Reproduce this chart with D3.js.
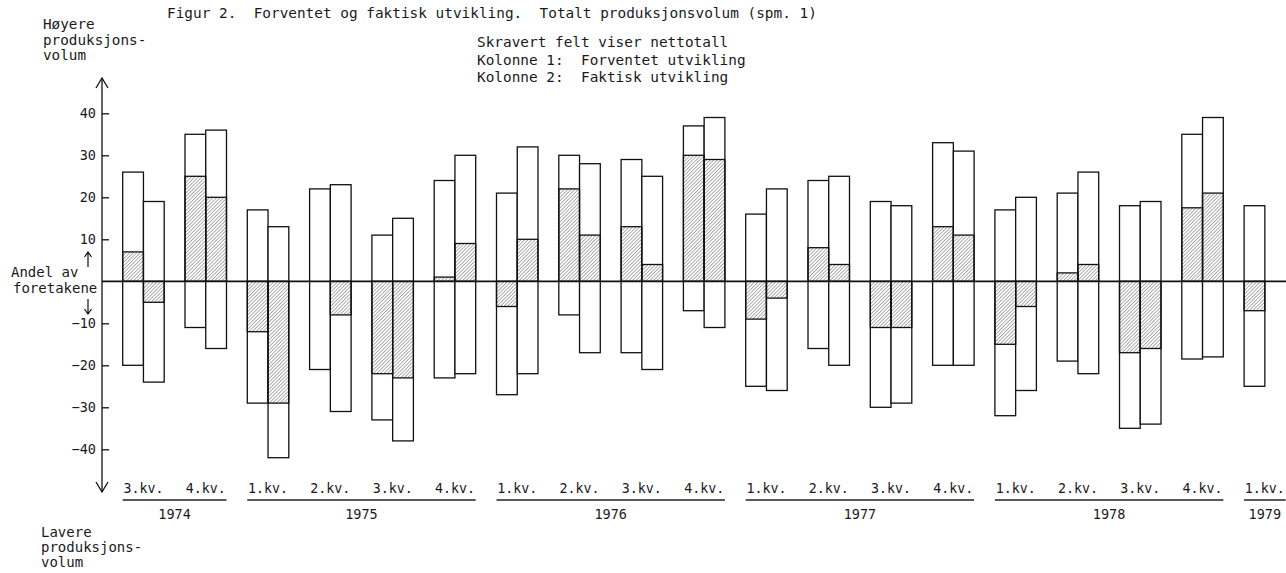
<!DOCTYPE html>
<html>

<head>
    <title>Figur 2</title>
    <script src="https://d3js.org/d3.v7.min.js"></script>

    <style>
        body {
            margin: 0;
            background: #fff;
        }

        svg text {
            font-family: "DejaVu Sans Mono", "Liberation Mono", monospace;
            fill: #1a1a1a;
            white-space: pre;
        }
    </style>
</head>

<body>
    <svg id="chart" width="1286" height="573"></svg>

    <script>
        // quarters, in order
        const years = ["1974", "1974", "1975", "1975", "1975", "1975", "1976", "1976", "1976", "1976",
            "1977", "1977", "1977", "1977", "1978", "1978", "1978", "1978", "1979"];
        const quarters = ["3.kv.", "4.kv.", "1.kv.", "2.kv.", "3.kv.", "4.kv.", "1.kv.", "2.kv.", "3.kv.", "4.kv.",
            "1.kv.", "2.kv.", "3.kv.", "4.kv.", "1.kv.", "2.kv.", "3.kv.", "4.kv.", "1.kv."];

        // Kolonne 1: forventet utvikling (andel hoyere, andel lavere, netto)
        const expHigher = [26, 35, 17, 22, 11, 24, 21, 30, 29, 37, 16, 24, 19, 33, 17, 21, 18, 35, 18];
        const expLower = [-20, -11, -29, -21, -33, -23, -27, -8, -17, -7, -25, -16, -30, -20, -32, -19, -35, -18.5, -25];
        const expNet = [7, 25, -12, 0, -22, 1, -6, 22, 13, 30, -9, 8, -11, 13, -15, 2, -17, 17.5, -7];

        // Kolonne 2: faktisk utvikling (ingen tall for 1979 1.kv.)
        const actHigher = [19, 36, 13, 23, 15, 30, 32, 28, 25, 39, 22, 25, 18, 31, 20, 26, 19, 39, null];
        const actLower = [-24, -16, -42, -31, -38, -22, -22, -17, -21, -11, -26, -20, -29, -20, -26, -22, -34, -18, null];
        const actNet = [-5, 20, -29, -8, -23, 9, 10, 11, 4, 29, -4, 4, -11, 11, -6, 4, -16, 21, null];

        const yTicks = [-40, -30, -20, -10, 10, 20, 30, 40];

        const svg = d3.select("#chart");
        const width = +svg.attr("width");

        const periods = years.map((y, i) => y + " " + quarters[i]);

        const axisX = 102;

        const x = d3.scaleBand()
            .domain(periods)
            .range([122.7, 1285.6])
            .paddingInner(0.334)
            .paddingOuter(0);

        const col = d3.scaleBand()
            .domain(["forventet", "faktisk"])
            .range([0, x.bandwidth()]);

        const y = d3.scaleLinear()
            .domain([-40, 40])
            .range([449.3, 113.3]);

        // hatch pattern for net values
        const defs = svg.append("defs");
        defs.append("pattern")
            .attr("id", "hatch")
            .attr("patternUnits", "userSpaceOnUse")
            .attr("width", 2.5)
            .attr("height", 2.5)
            .attr("patternTransform", "rotate(45)")
            .append("line")
            .attr("x1", 0).attr("y1", 0)
            .attr("x2", 0).attr("y2", 2.5)
            .attr("stroke", "#2a2a2a")
            .attr("stroke-width", 0.75);

        const rows = [];
        periods.forEach((p, i) => {
            rows.push({ period: p, col: "forventet", higher: expHigher[i], lower: expLower[i], net: expNet[i] });
            if (actHigher[i] !== null) {
                rows.push({ period: p, col: "faktisk", higher: actHigher[i], lower: actLower[i], net: actNet[i] });
            }
        });

        const bars = svg.append("g");

        bars.selectAll(".outer")
            .data(rows)
            .join("rect")
            .attr("class", "outer")
            .attr("x", d => x(d.period) + col(d.col))
            .attr("y", d => y(d.higher))
            .attr("width", col.bandwidth())
            .attr("height", d => y(d.lower) - y(d.higher))
            .attr("fill", "#fff")
            .attr("stroke", "#111")
            .attr("stroke-width", 1.3);

        bars.selectAll(".net")
            .data(rows.filter(d => d.net !== 0))
            .join("rect")
            .attr("class", "net")
            .attr("x", d => x(d.period) + col(d.col))
            .attr("y", d => y(Math.max(0, d.net)))
            .attr("width", col.bandwidth())
            .attr("height", d => Math.abs(y(d.net) - y(0)))
            .attr("fill", "url(#hatch)")
            .attr("stroke", "#111")
            .attr("stroke-width", 1.3);

        // zero line
        svg.append("line")
            .attr("x1", axisX).attr("x2", width)
            .attr("y1", y(0)).attr("y2", y(0))
            .attr("stroke", "#111")
            .attr("stroke-width", 1.8);

        // y axis with ticks pointing in
        const yAxis = svg.append("g")
            .attr("transform", `translate(${axisX},0)`)
            .call(d3.axisLeft(y).tickValues(yTicks).tickSize(-7).tickPadding(6).tickFormat(d3.format("d")));
        yAxis.select(".domain").remove();
        yAxis.selectAll(".tick line").attr("stroke", "#111").attr("stroke-width", 1.3);
        yAxis.selectAll(".tick text")
            .style("font-size", "13.5px")
            .attr("fill", "#1a1a1a");

        // axis line with open arrow heads
        const arrowTop = 78, arrowBottom = 492;
        svg.append("line")
            .attr("x1", axisX).attr("x2", axisX)
            .attr("y1", arrowTop).attr("y2", arrowBottom)
            .attr("stroke", "#111").attr("stroke-width", 1.3);
        svg.append("path")
            .attr("d", `M${axisX - 6},${arrowTop + 10}L${axisX},${arrowTop}L${axisX + 6},${arrowTop + 10}`
                + `M${axisX - 6},${arrowBottom - 10}L${axisX},${arrowBottom}L${axisX + 6},${arrowBottom - 10}`)
            .attr("fill", "none").attr("stroke", "#111").attr("stroke-width", 1.3);

        // small arrows beside "Andel av foretakene"
        const ax = 88;
        svg.append("path")
            .attr("d", `M${ax},267L${ax},252M${ax - 3.5},257L${ax},252L${ax + 3.5},257`
                + `M${ax},299L${ax},314M${ax - 3.5},309L${ax},314L${ax + 3.5},309`)
            .attr("fill", "none").attr("stroke", "#111").attr("stroke-width", 1.2);

        svg.append("text").attr("x", 11).attr("y", 277).style("font-size", "14px").text("Andel av");
        svg.append("text").attr("x", 13).attr("y", 293).style("font-size", "14px").text("foretakene");

        // quarter labels and year underlines
        svg.selectAll(".qlabel")
            .data(periods)
            .join("text")
            .attr("class", "qlabel")
            .attr("x", d => x(d) + x.bandwidth() / 2)
            .attr("y", 493)
            .attr("text-anchor", "middle")
            .style("font-size", "13.3px")
            .text((d, i) => quarters[i]);

        const yearGroups = d3.groups(periods, d => d.slice(0, 4));
        yearGroups.forEach(([yr, ps]) => {
            const x0 = x(ps[0]);
            const x1 = x(ps[ps.length - 1]) + x.bandwidth();
            svg.append("line")
                .attr("x1", x0).attr("x2", x1)
                .attr("y1", 500).attr("y2", 500)
                .attr("stroke", "#222").attr("stroke-width", 1.6);
            svg.append("text")
                .attr("x", (x0 + x1) / 2)
                .attr("y", 519)
                .attr("text-anchor", "middle")
                .style("font-size", "13.5px")
                .text(yr);
        });

        // side labels
        const topLabel = ["Høyere", "produksjons-", "volum"];
        svg.selectAll(".toplabel")
            .data(topLabel)
            .join("text")
            .attr("class", "toplabel")
            .attr("x", 43)
            .attr("y", (d, i) => 29 + i * 15.5)
            .style("font-size", "14.3px")
            .text(d => d);

        const bottomLabel = ["Lavere", "produksjons-", "volum"];
        svg.selectAll(".bottomlabel")
            .data(bottomLabel)
            .join("text")
            .attr("class", "bottomlabel")
            .attr("x", 41)
            .attr("y", (d, i) => 537 + i * 15)
            .style("font-size", "14px")
            .text(d => d);

        // title and legend
        svg.append("text")
            .attr("x", 167)
            .attr("y", 18)
            .style("font-size", "14.4px")
            .text("Figur 2.  Forventet og faktisk utvikling.  Totalt produksjonsvolum (spm. 1)");

        const legend = ["Skravert felt viser nettotall", "Kolonne 1:  Forventet utvikling", "Kolonne 2:  Faktisk utvikling"];
        svg.selectAll(".legend")
            .data(legend)
            .join("text")
            .attr("class", "legend")
            .attr("x", 477)
            .attr("y", (d, i) => 47 + i * 17.5)
            .style("font-size", "14.4px")
            .text(d => d);
    </script>
</body>

</html>
